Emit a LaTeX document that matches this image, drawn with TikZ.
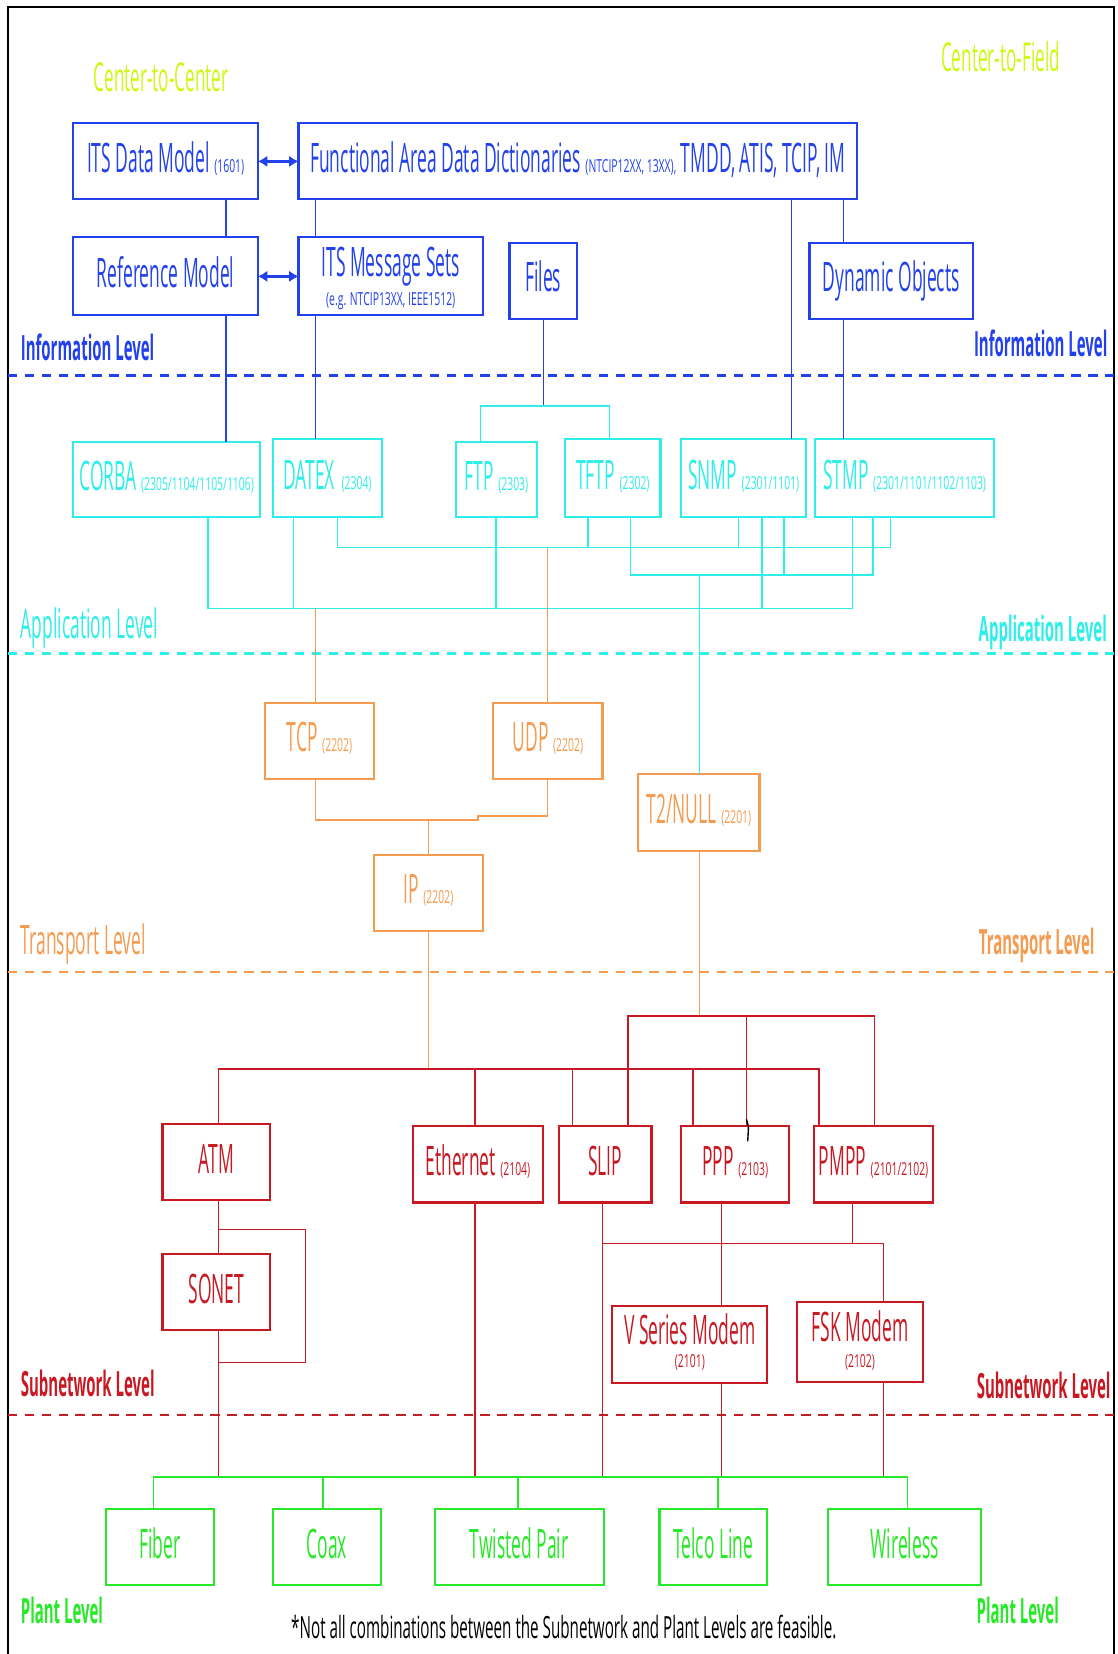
\documentclass[tikz,border=0pt]{standalone}
\usepackage{fontspec}
\setmainfont{Open Sans}[FakeStretch=0.43]
\newfontfamily\numfont{Open Sans}[FakeStretch=0.58]
\newfontfamily\notefont{Open Sans}[FakeStretch=0.497]
\usetikzlibrary{arrows.meta,calc}

\definecolor{infoblue}{RGB}{35,65,235}
\definecolor{appcyan}{RGB}{45,238,232}
\definecolor{transorange}{RGB}{245,155,80}
\definecolor{subred}{RGB}{200,25,35}
\definecolor{subdash}{RGB}{195,30,35}
\definecolor{plantgreen}{RGB}{40,232,40}
\definecolor{limegreen}{RGB}{205,248,20}

\newcommand{\bigtxt}{\fontsize{38.5}{40}\selectfont}
\newcommand{\codes}[1]{{\numfont\fontsize{17}{18}\selectfont #1}}
\newcommand{\bx}[1]{\makebox[0pt]{#1}}

\tikzset{
  box/.style 2 args={draw, line width=2pt, inner sep=0pt, outer sep=0pt,
    minimum width=#1, minimum height=#2, text height=21pt, text depth=0pt,
    font=\bigtxt},
  subtext/.style={anchor=base, inner sep=0pt},
  wire/.style={line width=1.4pt},
  levelline/.style={line width=2.5pt, dash pattern=on 9pt off 7pt},
  levelbold/.style={inner sep=0pt, font=\bfseries\fontsize{33}{35}\selectfont},
  levelplain/.style={inner sep=0pt, font=\bigtxt},
  dblarrow/.style={line width=2.5pt, {Latex[length=9pt,width=11pt]}-{Latex[length=9pt,width=11pt]}},
}

\begin{document}
\begin{tikzpicture}[x=1pt,y=-1pt]
\useasboundingbox (0,0) rectangle (1059,1568);

% outer frame
\draw[black, line width=2pt] (7.5,1575) -- (7.5,7) -- (1056,7) -- (1056,1575);

% headings
\node[anchor=base west, inner sep=0pt, text=limegreen, font=\fontsize{37.8}{40}\selectfont] (c2c) at (88.7,87) {Center-to-Center};
\node[anchor=base west, inner sep=0pt, text=limegreen, font=\fontsize{37.8}{40}\selectfont] (c2f) at (892,68) {Center-to-Field};

% ---------------- Information level ----------------
\begin{scope}[infoblue]
\node[box={175}{72}] (itsdm) at (157,153) {\bx{ITS Data Model \codes{(1601)}}};
\node[box={529.7}{72}] (fadd) at (547.85,153) {\bx{Functional Area Data Dictionaries \codes{(NTCIP12XX, 13XX),} TMDD, ATIS, TCIP, IM}};
\node[box={175}{74}] (refm) at (157,262) {\bx{Reference Model}};
\node[box={174.8}{74}, text height=0pt] (msgs) at (370.4,262) {\bx{ITS Message Sets}};
\node[subtext] (msgsref) at ($(msgs.center)+(0,28)$) {\codes{(e.g. NTCIP13XX, IEEE1512)}};
\node[box={64}{72}] (files) at (515,266) {\bx{Files}};
\node[box={155.2}{72}] (dyn) at (845,266) {\bx{Dynamic Objects}};

\draw[dblarrow] (itsdm.east) -- (fadd.west);
\draw[dblarrow] (refm.east) -- (msgs.west);

\coordinate (bx1) at (214.3,207);
\coordinate (bx2) at (299.3,207);
\coordinate (bx3) at (750.5,207);
\coordinate (bx4) at (799.7,207);
\draw[wire] (itsdm.south -| bx1) -- (refm.north -| bx1);
\draw[wire] (fadd.south -| bx2) -- (msgs.north -| bx2);
\draw[wire] (fadd.south -| bx4) -- (dyn.north -| bx4);

\node[levelbold, anchor=base west] (infoL) at (19.6,342) {Information Level};
\node[levelbold, anchor=base east] (infoR) at (1050,338) {Information Level};
\draw[levelline] (7.5,356.2) -- (1056,356.2);
\end{scope}

% ---------------- Application level ----------------
\begin{scope}[appcyan]
\node[box={177.1}{71.7}] (corba) at (158,454.5) {\bx{CORBA \codes{(2305/1104/1105/1106)}}};
\node[box={103.3}{73.9}] (datex) at (310.35,453.45) {\bx{DATEX\,\codes{(2304)}}};
\node[box={77.2}{71.7}] (ftp) at (470.6,454.5) {\bx{FTP \codes{(2303)}}};
\node[box={90.4}{73.9}] (tftp) at (581,453.45) {\bx{TFTP \codes{(2302)}}};
\node[box={118.5}{73.9}] (snmp) at (705.05,453.45) {\bx{SNMP \codes{(2301/1101)}}};
\node[box={170.1}{73.9}] (stmp) at (857.55,453.45) {\bx{STMP \codes{(2301/1101/1102/1103)}}};

\node[levelplain, anchor=base west] (appL) at (19.6,605) {Application Level};
\node[levelbold, anchor=base east] (appR) at (1049.5,608) {Application Level};
\draw[levelline] (7.5,619.4) -- (1056,619.4);
\end{scope}

% ---------------- Transport level boxes ----------------
\begin{scope}[transorange]
\node[box={104}{72}] (tcp) at (302.9,702.2) {\bx{TCP \codes{(2202)}}};
\node[box={103.6}{72}] (udp) at (519.4,702.2) {\bx{UDP \codes{(2202)}}};
\node[box={103.3}{72}] (ip) at (406.15,846.3) {\bx{IP \codes{(2202)}}};
\node[box={114.8}{72.5}] (t2) at (662.6,770.25) {\bx{T2/NULL \codes{(2201)}}};
\end{scope}

% blue feeds into the application boxes
\draw[infoblue, wire] (refm.south -| bx1) -- (corba.north -| bx1);
\draw[infoblue, wire] (msgs.south -| bx2) -- (datex.north -| bx2);
\draw[infoblue, wire] (fadd.south -| bx3) -- (snmp.north -| bx3);
\draw[infoblue, wire] (dyn.south -| bx4) -- (stmp.north -| bx4);

% files branch
\coordinate (fj) at (515,385);
\coordinate (fl) at (455.4,385);
\coordinate (fr) at (578,385);
\draw[infoblue, wire] (files.south) -- (fj);
\draw[appcyan, wire] (ftp.north -| fl) -- (fl) -- (fr) -- (tftp.north -| fr);

% application buses
\coordinate (a1) at (320,519.2);
\coordinate (aT) at (557.2,519.2);
\coordinate (aU) at (519,519.2);
\coordinate (aS) at (700,519.2);
\coordinate (a4) at (844.3,519.2);
\coordinate (b1) at (597.7,545.1);
\coordinate (bT) at (663,545.1);
\coordinate (bS) at (743,545.1);
\coordinate (b3) at (827.8,545.1);
\coordinate (c1) at (197.4,576.7);
\coordinate (cD) at (278.3,576.7);
\coordinate (cT) at (299.3,576.7);
\coordinate (cF) at (470.3,576.7);
\coordinate (cS) at (722.4,576.7);
\coordinate (c5) at (808.2,576.7);
\begin{scope}[appcyan, wire]
\draw (datex.south -| a1) |- (a4) -- (stmp.south -| a4);
\draw (tftp.south -| aT) -- (aT);
\draw (snmp.south -| aS) -- (aS);
\draw (tftp.south -| b1) |- (b3) -- (stmp.south -| b3);
\draw (snmp.south -| bS) -- (bS);
\draw (bT) -- (t2.north -| bT);
\draw (corba.south -| c1) |- (c5) -- (stmp.south -| c5);
\draw (datex.south -| cD) -- (cD);
\draw (ftp.south -| cF) -- (cF);
\draw (snmp.south -| cS) -- (cS);
\end{scope}

% ---------------- Transport level links ----------------
\begin{scope}[transorange]
\coordinate (j1) at (299.3,777.4);
\coordinate (jIP) at (406,777.4);
\coordinate (j2) at (453,777.4);
\coordinate (j3) at (453,773.6);
\coordinate (j4) at (519,773.6);
\draw[wire] (cT) -- (tcp.north -| cT);
\draw[wire] (aU) -- (udp.north -| aU);
\draw[wire] (tcp.south -| j1) -- (j1) -- (j2) -- (j3) -- (j4) -- (udp.south -| j4);
\draw[wire] (jIP) -- (ip.north -| jIP);

\node[levelplain, anchor=base west] (trL) at (19.6,905) {Transport Level};
\node[levelbold, anchor=base east] (trR) at (1037.7,905) {Transport Level};
\draw[levelline] (7.5,921.5) -- (1056,921.5);
\end{scope}

% ---------------- Subnetwork level ----------------
\coordinate (r1) at (207.2,1013.5);
\coordinate (rIP) at (406,1013.5);
\coordinate (rE) at (450.3,1013.5);
\coordinate (rS) at (542.8,1013.5);
\coordinate (rP) at (657.1,1013.5);
\coordinate (r5) at (776.3,1013.5);
\coordinate (q1) at (595.3,963);
\coordinate (qT) at (663,963);
\coordinate (q2) at (707.6,963);
\coordinate (q3) at (829.2,963);
\draw[transorange, wire] (ip.south -| rIP) -- (rIP);
\draw[transorange, wire] (t2.south -| qT) -- (qT);

\begin{scope}[subred]
\node[box={102.3}{72.1}] (atm) at (205.15,1101.65) {\bx{ATM}};
\node[box={102.3}{72.1}] (sonet) at (205.15,1224.9) {\bx{SONET}};
\node[box={123.3}{72.5}] (eth) at (453.05,1103.75) {\bx{Ethernet \codes{(2104)}}};
\node[box={87.6}{72.5}] (slip) at (573.8,1103.75) {\bx{SLIP}};
\node[box={102.3}{72.5}] (ppp) at (696.95,1103.75) {\bx{PPP \codes{(2103)}}};
\node[box={113.3}{72.5}] (pmpp) at (828.15,1103.75) {\bx{PMPP \codes{(2101/2102)}}};
\node[box={147}{72.6}, text height=0pt] (vser) at (654,1274.5) {\bx{V Series Modem}};
\node[subtext] (vsercode) at ($(vser.center)+(0,21.5)$) {\codes{(2101)}};
\node[box={119.9}{76}, text height=0pt] (fsk) at (815.25,1272) {\bx{FSK Modem}};
\node[subtext] (fskcode) at ($(fsk.center)+(0,24)$) {\codes{(2102)}};

\draw[wire] (atm.north -| r1) |- (r5) -- (pmpp.north -| r5);
\draw[wire] (rE) -- (eth.north -| rE);
\draw[wire] (rS) -- (slip.north -| rS);
\draw[wire] (rP) -- (ppp.north -| rP);
\draw[wire] (slip.north -| q1) |- (q3) -- (pmpp.north -| q3);
\draw[wire] (q2) -- (ppp.north -| q2);

% ATM / SONET with bypass
\coordinate (l1) at (207.2,1165.5);
\coordinate (l2) at (289.5,1165.5);
\coordinate (l3) at (289.5,1291.6);
\coordinate (l4) at (207.2,1291.6);
\draw[wire] (atm.south -| l1) -- (sonet.north -| l1);
\draw[wire] (l1) -- (l2) -- (l3) -- (l4);

% modem branches
\coordinate (d1) at (571.2,1178.7);
\coordinate (dP) at (684.2,1178.7);
\coordinate (dM) at (808.2,1178.7);
\coordinate (d2) at (837.4,1178.7);
\draw[wire] (d1) -- (d2) -- (fsk.north -| d2);
\draw[wire] (ppp.south -| dP) -- (vser.north -| dP);
\draw[wire] (pmpp.south -| dM) -- (dM);

% drops to the plant bus
\coordinate (gA) at (207.2,1400);
\coordinate (gE) at (450.3,1400);
\coordinate (gS) at (571.2,1400);
\coordinate (gV) at (684.2,1400);
\coordinate (gK) at (837.4,1400);
\draw[wire] (sonet.south -| gA) -- (gA);
\draw[wire] (eth.south -| gE) -- (gE);
\draw[wire] (slip.south -| gS) -- (gS);
\draw[wire] (vser.south -| gV) -- (gV);
\draw[wire] (fsk.south -| gK) -- (gK);

\node[levelbold, anchor=base west] (subL) at (19.6,1324) {Subnetwork Level};
\node[levelbold, anchor=base east] (subR) at (1053,1325.5) {Subnetwork Level};
\end{scope}
\draw[subdash, levelline] (7.5,1341.5) -- (1056,1341.5);

% stray pen mark on the PPP feed
\draw[black, line width=1.3pt] (707.6,1061) .. controls (709.8,1066) .. (708.8,1082);

% ---------------- Plant level ----------------
\begin{scope}[plantgreen]
\node[box={102.3}{72.1}] (fiber) at (151.35,1466.65) {\bx{Fiber}};
\node[box={102.2}{72.1}] (coax) at (309.8,1466.65) {\bx{Coax}};
\node[box={160.3}{72.1}] (twp) at (492.15,1466.65) {\bx{Twisted Pair}};
\node[box={102}{72.1}] (telco) at (676.2,1466.65) {\bx{Telco Line}};
\node[box={144.9}{72.1}] (wireless) at (857.75,1466.65) {\bx{Wireless}};

\coordinate (gF) at (145.6,1400);
\coordinate (gC) at (306.4,1400);
\coordinate (gT) at (491,1400);
\coordinate (gL) at (680.5,1400);
\coordinate (gW) at (860.4,1400);
\draw[wire] (fiber.north -| gF) |- (gW) -- (wireless.north -| gW);
\draw[wire] (gC) -- (coax.north -| gC);
\draw[wire] (gT) -- (twp.north -| gT);
\draw[wire] (gL) -- (telco.north -| gL);

\node[levelbold, anchor=base west] (plL) at (19.6,1539) {Plant Level};
\node[levelbold, anchor=base east] (plR) at (1004,1539) {Plant Level};
\end{scope}

\node[anchor=base west, inner sep=0pt, font=\notefont\fontsize{29}{31}\selectfont] (note) at (275.9,1553) {*Not all combinations between the Subnetwork and Plant Levels are feasible.};

\end{tikzpicture}
\end{document}
